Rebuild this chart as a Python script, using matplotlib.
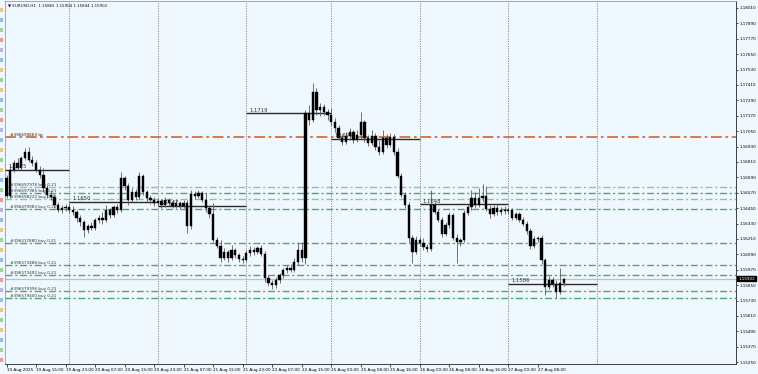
import numpy as np
import matplotlib
matplotlib.use('Agg')
import matplotlib.pyplot as plt
from matplotlib.patches import Rectangle

# EURUSD H1, 19 Aug 07:00 -> 27 Aug 15:00
opens = [
    1.16685, 1.16545, 1.16747, 1.16802, 1.16763, 1.16841, 1.16888, 1.16825, 1.16802, 1.16747, 1.16708, 1.16607, 1.16553, 1.16537, 1.16475, 1.16436, 1.16451,
    1.16459, 1.16436, 1.16420, 1.16373, 1.16342, 1.16280, 1.16311, 1.16295, 1.16358, 1.16373, 1.16358, 1.16436, 1.16397, 1.16459, 1.16436, 1.16685, 1.16623, 1.16514, 1.16576, 1.16537, 1.16701, 1.16576, 1.16529, 1.16514,
    1.16490, 1.16506, 1.16475, 1.16514, 1.16490, 1.16467, 1.16490, 1.16467, 1.16490, 1.16311, 1.16560, 1.16545, 1.16568, 1.16514, 1.16451, 1.16405, 1.16202, 1.16155, 1.16062, 1.16108, 1.16062, 1.16124, 1.16085, 1.16054,
    1.16046, 1.16101, 1.16124, 1.16108, 1.16140, 1.16093, 1.15906, 1.15867, 1.15851, 1.15890, 1.15929, 1.15968, 1.15984, 1.15968, 1.16031, 1.16124, 1.16062, 1.17192, 1.17137, 1.17355, 1.17215, 1.17238, 1.17199,
    1.17176, 1.17121, 1.17075, 1.16997, 1.16966, 1.17012, 1.17043, 1.16981, 1.17020, 1.17121, 1.16997, 1.16958, 1.17012, 1.16927, 1.16888, 1.16997, 1.16942, 1.17005, 1.16888, 1.16701, 1.16553, 1.16475, 1.16218, 1.16108,
    1.16202, 1.16179, 1.16147, 1.16132, 1.16475, 1.16420, 1.16358, 1.16249, 1.16319, 1.16397, 1.16218, 1.16186, 1.16202, 1.16412, 1.16459, 1.16529, 1.16475, 1.16529, 1.16545, 1.16444, 1.16405, 1.16451, 1.16420, 1.16436,
    1.16428, 1.16436, 1.16373, 1.16405, 1.16358, 1.16327, 1.16272, 1.16155, 1.16210, 1.16218, 1.16046, 1.15836, 1.15890, 1.15859, 1.15797, 1.15865,
]
highs = [
    1.16708, 1.16786, 1.16825, 1.16841, 1.16856, 1.16919, 1.16927, 1.16856, 1.16825, 1.16779, 1.16763, 1.16631, 1.16592, 1.16560, 1.16498, 1.16475, 1.16482,
    1.16490, 1.16467, 1.16436, 1.16397, 1.16358, 1.16327, 1.16342, 1.16373, 1.16397, 1.16420, 1.16475, 1.16451, 1.16475, 1.16482, 1.16732, 1.16701, 1.16646, 1.16607, 1.16599, 1.16732, 1.16716, 1.16592, 1.16553, 1.16537,
    1.16529, 1.16521, 1.16537, 1.16529, 1.16514, 1.16514, 1.16506, 1.16514, 1.16514, 1.16592, 1.16584, 1.16592, 1.16584, 1.16568, 1.16475, 1.16490, 1.16225, 1.16202, 1.16140, 1.16124, 1.16163, 1.16140, 1.16101, 1.16077,
    1.16124, 1.16155, 1.16147, 1.16155, 1.16163, 1.16116, 1.15929, 1.15890, 1.15914, 1.15945, 1.15984, 1.16007, 1.16015, 1.16062, 1.16179, 1.16186, 1.17215, 1.17254, 1.17425, 1.17386, 1.17269, 1.17262, 1.17223,
    1.17231, 1.17153, 1.17098, 1.17028, 1.17043, 1.17075, 1.17059, 1.17059, 1.17199, 1.17137, 1.17020, 1.17059, 1.17036, 1.16981, 1.17059, 1.17028, 1.17036, 1.17028, 1.16919, 1.16724, 1.16576, 1.16498, 1.16241, 1.16233,
    1.16225, 1.16218, 1.16171, 1.16592, 1.16498, 1.16444, 1.16381, 1.16342, 1.16420, 1.16412, 1.16249, 1.16218, 1.16436, 1.16482, 1.16592, 1.16576, 1.16607, 1.16638, 1.16623, 1.16475, 1.16475, 1.16482, 1.16459, 1.16467,
    1.16459, 1.16451, 1.16420, 1.16420, 1.16381, 1.16350, 1.16295, 1.16233, 1.16233, 1.16241, 1.16062, 1.15921, 1.15914, 1.15890, 1.15984, 1.15904,
]
lows = [
    1.16529, 1.16529, 1.16732, 1.16747, 1.16747, 1.16825, 1.16810, 1.16779, 1.16732, 1.16685, 1.16576, 1.16529, 1.16514, 1.16451, 1.16420, 1.16412, 1.16428,
    1.16412, 1.16397, 1.16342, 1.16311, 1.16225, 1.16256, 1.16280, 1.16280, 1.16334, 1.16327, 1.16342, 1.16373, 1.16381, 1.16412, 1.16420, 1.16592, 1.16475, 1.16498, 1.16514, 1.16521, 1.16553, 1.16498, 1.16482, 1.16467,
    1.16467, 1.16451, 1.16459, 1.16467, 1.16451, 1.16451, 1.16444, 1.16451, 1.16256, 1.16288, 1.16521, 1.16529, 1.16498, 1.16420, 1.16373, 1.16186, 1.16140, 1.16031, 1.16046, 1.16031, 1.16046, 1.16062, 1.16031, 1.16023,
    1.16031, 1.16077, 1.16085, 1.16093, 1.16077, 1.15875, 1.15844, 1.15820, 1.15828, 1.15867, 1.15906, 1.15945, 1.15953, 1.15953, 1.16007, 1.16031, 1.16015, 1.17098, 1.17121, 1.17176, 1.17168, 1.17176, 1.17137,
    1.17098, 1.17043, 1.16981, 1.16942, 1.16950, 1.16981, 1.16958, 1.16966, 1.16997, 1.16966, 1.16934, 1.16942, 1.16903, 1.16864, 1.16872, 1.16919, 1.16927, 1.16864, 1.16685, 1.16537, 1.16451, 1.16186, 1.16023, 1.16093,
    1.16155, 1.16124, 1.16108, 1.16116, 1.16405, 1.16342, 1.16225, 1.16233, 1.16295, 1.16202, 1.16023, 1.16155, 1.16186, 1.16397, 1.16436, 1.16451, 1.16459, 1.16498, 1.16428, 1.16373, 1.16389, 1.16397, 1.16397, 1.16405,
    1.16405, 1.16358, 1.16358, 1.16342, 1.16311, 1.16249, 1.16132, 1.16140, 1.16186, 1.16015, 1.15773, 1.15820, 1.15836, 1.15750, 1.15781, 1.15844,
]
closes = [
    1.16545, 1.16747, 1.16802, 1.16763, 1.16841, 1.16888, 1.16825, 1.16802, 1.16747, 1.16708, 1.16607, 1.16553, 1.16537, 1.16475, 1.16436, 1.16451, 1.16459,
    1.16436, 1.16420, 1.16373, 1.16342, 1.16280, 1.16311, 1.16295, 1.16358, 1.16373, 1.16358, 1.16436, 1.16397, 1.16459, 1.16436, 1.16685, 1.16623, 1.16514, 1.16576, 1.16537, 1.16701, 1.16576, 1.16529, 1.16514, 1.16490,
    1.16506, 1.16475, 1.16514, 1.16490, 1.16467, 1.16490, 1.16467, 1.16490, 1.16311, 1.16560, 1.16545, 1.16568, 1.16514, 1.16451, 1.16405, 1.16202, 1.16155, 1.16062, 1.16108, 1.16062, 1.16124, 1.16085, 1.16054, 1.16046,
    1.16101, 1.16124, 1.16108, 1.16140, 1.16093, 1.15906, 1.15867, 1.15851, 1.15890, 1.15929, 1.15968, 1.15984, 1.15968, 1.16031, 1.16124, 1.16062, 1.17192, 1.17137, 1.17355, 1.17215, 1.17238, 1.17199, 1.17176,
    1.17121, 1.17075, 1.16997, 1.16966, 1.17012, 1.17043, 1.16981, 1.17020, 1.17121, 1.16997, 1.16958, 1.17012, 1.16927, 1.16888, 1.16997, 1.16942, 1.17005, 1.16888, 1.16701, 1.16553, 1.16475, 1.16218, 1.16108, 1.16202,
    1.16179, 1.16147, 1.16132, 1.16475, 1.16420, 1.16358, 1.16249, 1.16319, 1.16397, 1.16218, 1.16186, 1.16202, 1.16412, 1.16459, 1.16529, 1.16475, 1.16529, 1.16545, 1.16444, 1.16405, 1.16451, 1.16420, 1.16436, 1.16428,
    1.16436, 1.16373, 1.16405, 1.16358, 1.16327, 1.16272, 1.16155, 1.16210, 1.16218, 1.16046, 1.15836, 1.15890, 1.15859, 1.15797, 1.15865, 1.15902,
]

# bar index where each day starts (last one = 28 Aug, no bars yet)
day_starts = [0, 17, 41, 65, 88, 112, 136, 160]
day_levels = [1.1675, 1.1650, 1.1647, 1.1719, 1.1699, 1.1648, 1.1586]

tp_price = 1.17005
tp_label = '#396699663 tp'
buy_prices = [1.16615, 1.16568, 1.16521, 1.16444, 1.16179, 1.16007, 1.15929, 1.15801, 1.15750]
buy_labels = ['#396697978 buy 0.21', '#396697985 buy 0.21', '#396698222 buy 0.21', '#396479983 buy 0.21',
              '#396417880 buy 0.21', '#396573488 buy 0.21', '#396573492 buy 0.21', '#396579396 buy 0.21',
              '#396579400 buy 0.21']
buy_colors = ['#86c994', '#4fa863', '#86c994', '#4fa863', '#4fa863', '#4fa863', '#4fa863', '#4fa863', '#4fa863']

bid = 1.15902
header = 'EURUSD,H1  1.15865 1.15904 1.15844 1.15902'

time_idx = [0, 8, 16, 24, 32, 40, 48, 56, 64, 72, 80, 88, 96, 104, 112, 120, 128, 136, 144]
time_labels = ['19 Aug 2025', '19 Aug 15:00', '19 Aug 23:00', '20 Aug 07:00', '20 Aug 15:00', '20 Aug 23:00',
               '21 Aug 07:00', '21 Aug 15:00', '21 Aug 23:00', '22 Aug 07:00', '22 Aug 15:00', '25 Aug 00:00',
               '25 Aug 08:00', '25 Aug 16:00', '26 Aug 00:00', '26 Aug 08:00', '26 Aug 16:00', '27 Aug 00:00',
               '27 Aug 08:00']
price_ticks = [1.18010, 1.17890, 1.17770, 1.17650, 1.17530, 1.17410, 1.17290, 1.17170, 1.17050, 1.16930,
               1.16810, 1.16690, 1.16570, 1.16450, 1.16330, 1.16210, 1.16090, 1.15970, 1.15850, 1.15730,
               1.15610, 1.15490, 1.15370, 1.15250]

bg = '#F0F8FF'
W, H = 758, 374
fig = plt.figure(figsize=(W / 100, H / 100), dpi=100, facecolor=bg)
ax = fig.add_axes([5 / W, 10 / H, 731 / W, 363 / H], facecolor=bg)

o = np.array(opens)
h = np.array(highs)
l = np.array(lows)
c = np.array(closes)
x = np.arange(len(c))

# grid at day boundaries
for d in day_starts[1:]:
    ax.axvline(d, color='#7f7f7f', lw=0.6, ls=(0, (1.5, 1.5)), zorder=1)

# bid line
ax.axhline(bid, color='#c0c0c0', lw=0.9, zorder=1)

# order lines
ax.axhline(tp_price, color='#D2703C', lw=1.3, ls=(0, (6, 2, 1.5, 2)), zorder=2)
ax.text(1.0, tp_price, tp_label, fontsize=3, va='bottom', ha='left', color='#222222', zorder=5)
for p, lab, col in zip(buy_prices, buy_labels, buy_colors):
    ax.axhline(p, color=col, lw=1.0, ls=(0, (5, 2, 1.5, 2)), zorder=2)
    ax.text(1.0, p, lab, fontsize=3, va='bottom', ha='left', color='#333333', zorder=5)

# daily level segments
xmin, xmax = -0.41, 197.7
for k, lev in enumerate(day_levels):
    x0 = day_starts[k] if k > 0 else xmin
    ax.hlines(lev, x0, day_starts[k + 1], color='#2b2b2b', lw=1.0, zorder=3)
    ax.text(x0 + 0.8, lev + 0.00004, f'{lev:.4f}', fontsize=3.8, va='bottom', ha='left', color='#333333', zorder=5)

# candles
ax.vlines(x, l, h, color='#5a5a5a', lw=0.6, zorder=4)
body_lo = np.minimum(o, c)
body_h = np.maximum(np.abs(c - o), 0.00003)
ax.bar(x, body_h, bottom=body_lo, width=0.62, color='black', edgecolor='black', lw=0.3, zorder=4)

ax.set_xlim(xmin, xmax)
ax.set_ylim(1.15236, 1.18064)

ax.yaxis.tick_right()
ax.set_yticks(price_ticks)
ax.set_yticklabels([f'{p:.5f}' for p in price_ticks])
ax.tick_params(axis='y', direction='out', length=1.5, width=0.5, pad=1, labelsize=3, colors='black')
ax.set_xticks(time_idx)
ax.set_xticklabels(time_labels, ha='left')
ax.tick_params(axis='x', direction='out', length=2, width=0.5, pad=1, labelsize=3, colors='black')

for side in ['left', 'top']:
    ax.spines[side].set_color('#9a9a9a')
    ax.spines[side].set_linewidth(0.6)
for side in ['right', 'bottom']:
    ax.spines[side].set_color('#404040')
    ax.spines[side].set_linewidth(0.7)

# bid box on price scale
ax.annotate(f'{bid:.5f}', xy=(1.0, bid), xycoords=('axes fraction', 'data'), xytext=(1.6, 0),
            textcoords='offset points', va='center', ha='left', fontsize=3, color='white',
            bbox=dict(boxstyle='square,pad=0.2', fc='black', ec='black'))

# header
ax.text(0.004, 0.993, '\u25bc ' + header, transform=ax.transAxes, fontsize=2.9, va='top', ha='left', color='#111111')

# left toolbar strip
icon_colors = ['#e0a030', '#4a8fd8', '#5cb85c', '#d9534f', '#8e7cc3', '#4a8fd8', '#e0a030', '#5cb85c']
for k in range(36):
    y0 = 1 - (8 + k * 10) / H
    fig.patches.append(Rectangle((0, y0 - 4 / H), 3 / W, 4 / H, transform=fig.transFigure,
                                 fc=icon_colors[k % len(icon_colors)], ec='none', alpha=0.55))

fig.savefig('out.png', dpi=100, facecolor=bg)
